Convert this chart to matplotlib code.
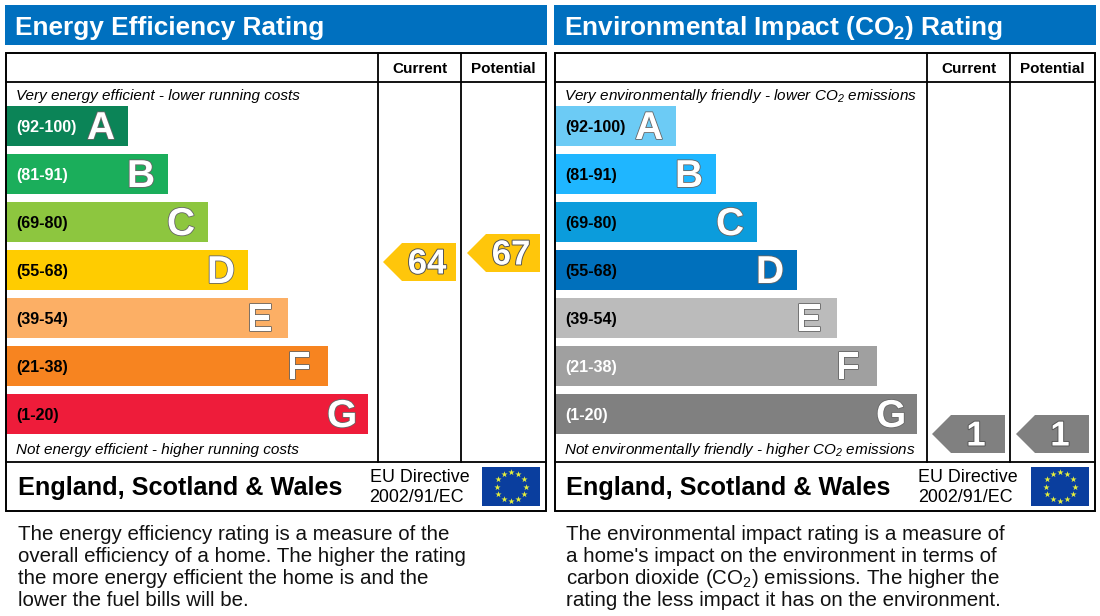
import numpy as np
import matplotlib
matplotlib.use("Agg")
import matplotlib.pyplot as plt
import matplotlib.patheffects as pe
from matplotlib.patches import Rectangle, Polygon

plt.rcParams['font.family'] = ['Liberation Sans', 'DejaVu Sans']
plt.rcParams['mathtext.default'] = 'regular'

bands = ['A', 'B', 'C', 'D', 'E', 'F', 'G']
ranges = ['(92-100)', '(81-91)', '(69-80)', '(55-68)', '(39-54)', '(21-38)', '(1-20)']
band_lengths_left = [122, 162, 202, 242, 282, 322, 362]
band_lengths_right = [121, 161, 202, 242, 282, 322, 362]
colors_left = ['#0B8457', '#1BAE5B', '#8DC63F', '#FFCC00', '#FCAF65', '#F78420', '#EE1C3A']
colors_right = ['#6CCBF5', '#1FB6FF', '#0B9CDC', '#0070BC', '#BBBBBB', '#A0A0A0', '#808080']
range_colors_left = ['white', 'white', 'black', 'black', 'black', 'black', 'black']
range_colors_right = ['black', 'black', 'black', 'black', 'black', 'white', 'white']

energy_current, energy_potential = 64, 67
impact_current, impact_potential = 1, 1
energy_arrow_color = '#FFC60B'
impact_arrow_color = '#808080'

titles = ['Energy Efficiency Rating', 'Environmental Impact (CO$_2$) Rating']
top_notes = ['Very energy efficient - lower running costs',
             'Very environmentally friendly - lower CO$_2$ emissions']
bottom_notes = ['Not energy efficient - higher running costs',
                'Not environmentally friendly - higher CO$_2$ emissions']
descriptions = [
    ['The energy efficiency rating is a measure of the',
     'overall efficiency of a home. The higher the rating',
     'the more energy efficient the home is and the',
     'lower the fuel bills will be.'],
    ['The environmental impact rating is a measure of',
     "a home's impact on the environment in terms of",
     'carbon dioxide (CO$_2$) emissions. The higher the',
     'rating the less impact it has on the environment.'],
]

fig = plt.figure(figsize=(11, 6.16), dpi=100, facecolor='white')
ax = fig.add_axes([0, 0, 1, 1])
ax.set_xlim(0, 1100)
ax.set_ylim(616, 0)
ax.axis('off')

BAND_Y0, BAND_STEP, BAND_H = 126, 48, 40


def score_y(v):
    return min(262 + (64 - v) * 3, 434)


def arrow(xl, xr, yc, color, label):
    hh, tip = 19, 19
    ax.add_patch(Polygon([(xl, yc), (xl + tip, yc - hh), (xr, yc - hh), (xr, yc + hh), (xl + tip, yc + hh)],
                         closed=True, fc=color, ec='none', zorder=3))
    ax.text(xl + 44, yc + 2, label, fontsize=25, fontweight='bold', color='white',
            ha='center', va='center', zorder=4,
            path_effects=[pe.withStroke(linewidth=1.4, foreground='#555555')])


def panel(x0, idx, lengths, colors, rcolors, cur, pot, acolor):
    vx1, vx2 = x0 + 372.5, x0 + 455.5
    ax.add_patch(Rectangle((x0 - 1, 5), 542, 40, fc='#0070BF', ec='none'))
    ax.text(x0 + 9.5, 28, titles[idx], fontsize=18.9, fontweight='bold', color='white', va='center', ha='left')

    ax.add_patch(Rectangle((x0, 53), 540.5, 458, ec='black', lw=1.4, zorder=5, fill=False))
    ax.plot([x0, x0 + 540.5], [82, 82], color='black', lw=1.3, zorder=5)
    ax.plot([x0, x0 + 540.5], [462, 462], color='black', lw=1.3, zorder=5)
    for vx in (vx1, vx2):
        ax.plot([vx, vx], [53, 462], color='black', lw=1.3, zorder=5)
    ax.text((vx1 + vx2) / 2, 69, 'Current', fontsize=11, fontweight='bold', ha='center', va='center')
    ax.text((vx2 + x0 + 540.5) / 2, 69, 'Potential', fontsize=11, fontweight='bold', ha='center', va='center')

    ax.text(x0 + 10, 96, top_notes[idx], fontsize=11, style='italic', va='center', ha='left')
    ax.text(x0 + 10, 450, bottom_notes[idx], fontsize=11, style='italic', va='center', ha='left')

    ys = BAND_Y0 + BAND_STEP * np.arange(len(bands))
    ax.barh(ys, lengths, height=BAND_H, left=x0 + 0.5, color=colors, edgecolor='none', zorder=2)
    for y, ln, b, r, rc in zip(ys, lengths, bands, ranges, rcolors):
        ax.text(x0 + 11, y + 1.5, r, fontsize=11.6, fontweight='bold', color=rc, va='center', ha='left', zorder=3)
        ax.text(x0 + ln - 40.5, y + 3, b, fontsize=28, fontweight='bold', color='white', va='center', ha='left',
                zorder=3, path_effects=[pe.withStroke(linewidth=1.2, foreground='#666666')])

    arrow(x0 + 377.5, x0 + 450.5, score_y(cur), acolor, str(cur))
    arrow(x0 + 461.5, x0 + 534.5, score_y(pot), acolor, str(pot))

    ax.text(x0 + 12, 488, 'England, Scotland & Wales', fontsize=18.15, fontweight='bold', va='center', ha='left')
    ax.text(x0 + 364, 478, 'EU Directive', fontsize=12.9, va='center', ha='left')
    ax.text(x0 + 364, 498, '2002/91/EC', fontsize=12.9, va='center', ha='left')

    fx, fy, fw, fh = x0 + 476.5, 467, 58, 39
    ax.add_patch(Rectangle((fx, fy), fw, fh, fc='#0A3E9E', ec='none', zorder=2))
    ang = np.deg2rad(np.arange(0, 360, 30))
    ax.scatter(fx + fw / 2 + 14.5 * np.cos(ang), fy + fh / 2 + 14.5 * np.sin(ang), marker='*', s=22,
               color='#E6F03C', linewidths=0, zorder=3)

    for i, line in enumerate(descriptions[idx]):
        ax.text(x0 + 12, 534 + 22.3 * i, line, fontsize=14.8, va='center', ha='left', color='#111111')


panel(5.5, 0, band_lengths_left, colors_left, range_colors_left, energy_current, energy_potential, energy_arrow_color)
panel(554.5, 1, band_lengths_right, colors_right, range_colors_right, impact_current, impact_potential, impact_arrow_color)

fig.savefig('out.png', dpi=100, facecolor='white')
